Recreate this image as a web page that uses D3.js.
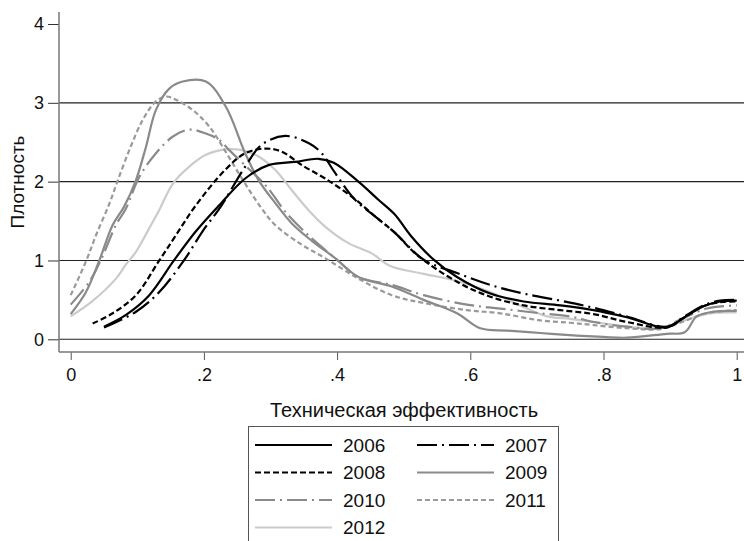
<!DOCTYPE html>
<html>
<head>
<meta charset="utf-8">
<script src="https://cdn.jsdelivr.net/npm/d3@7"></script>
<style>
  body { margin: 0; background: #fff; }
  svg { display: block; font-family: "Liberation Sans", Arial, sans-serif; }
</style>
</head>
<body>
<svg id="chart" width="744" height="541"></svg>
<script>
// density curves, [efficiency, density]
const d2006 = [[.05,.16],[.083,.31],[.118,.56],[.155,1.0],[.188,1.37],[.223,1.70],[.262,2.04],[.297,2.21],[.337,2.25],[.372,2.29],[.395,2.24],[.432,2.0],[.462,1.77],[.487,1.58],[.51,1.32],[.545,1.01],[.58,.79],[.63,.58],[.68,.48],[.735,.43],[.785,.37],[.835,.28],[.895,.15],[.92,.27],[.95,.42],[.975,.48],[1,.49]];
const d2007 = [[.05,.15],[.098,.35],[.133,.60],[.17,1.0],[.198,1.37],[.225,1.68],[.262,2.19],[.287,2.47],[.322,2.58],[.357,2.49],[.377,2.36],[.397,2.11],[.427,1.77],[.457,1.56],[.487,1.35],[.53,1.01],[.58,.84],[.63,.69],[.68,.58],[.735,.49],[.785,.40],[.835,.29],[.895,.16],[.92,.28],[.95,.43],[.975,.49],[1,.50]];
const d2008 = [[.033,.20],[.063,.33],[.098,.56],[.133,1.0],[.158,1.32],[.188,1.70],[.232,2.15],[.262,2.36],[.292,2.42],[.317,2.38],[.347,2.21],[.382,2.04],[.422,1.81],[.457,1.56],[.487,1.35],[.52,1.07],[.58,.73],[.63,.54],[.68,.43],[.735,.37],[.785,.32],[.835,.22],[.895,.15],[.92,.27],[.95,.42],[.975,.47],[1,.48]];
const d2009 = [[0,.32],[.023,.60],[.043,1.0],[.063,1.45],[.08,1.68],[.098,2.02],[.113,2.44],[.128,2.91],[.148,3.18],[.168,3.27],[.203,3.27],[.233,2.95],[.262,2.36],[.282,2.02],[.307,1.73],[.332,1.47],[.362,1.25],[.397,1.03],[.432,.79],[.482,.67],[.53,.50],[.58,.33],[.615,.14],[.655,.11],[.705,.08],[.755,.05],[.8,.03],[.835,.02],[.895,.07],[.922,.09],[.94,.29],[.965,.35],[1,.36]];
const d2010 = [[0,.44],[.028,.73],[.045,1.0],[.068,1.45],[.083,1.66],[.103,2.06],[.128,2.36],[.153,2.57],[.178,2.66],[.203,2.61],[.223,2.53],[.238,2.40],[.264,2.19],[.294,1.94],[.324,1.60],[.362,1.28],[.397,1.03],[.432,.79],[.482,.69],[.53,.56],[.595,.44],[.645,.39],[.705,.33],[.75,.29],[.785,.22],[.835,.16],[.885,.14],[.915,.25],[.955,.39],[1,.43]];
const d2011 = [[0,.56],[.023,.99],[.038,1.32],[.058,1.72],[.07,2.0],[.088,2.40],[.108,2.78],[.128,3.02],[.143,3.08],[.158,3.04],[.183,2.91],[.208,2.70],[.234,2.36],[.26,2.0],[.285,1.68],[.307,1.45],[.347,1.20],[.382,1.03],[.432,.77],[.482,.56],[.53,.46],[.595,.37],[.645,.33],[.705,.24],[.75,.21],[.785,.18],[.835,.14],[.885,.13],[.915,.21],[.955,.33],[1,.37]];
const d2012 = [[0,.29],[.032,.48],[.068,.77],[.083,.95],[.098,1.11],[.118,1.41],[.133,1.64],[.153,1.97],[.178,2.19],[.203,2.34],[.233,2.41],[.257,2.40],[.282,2.32],[.307,2.15],[.332,1.89],[.357,1.64],[.382,1.43],[.417,1.22],[.452,1.09],[.48,.93],[.53,.83],[.58,.74],[.63,.60],[.68,.41],[.715,.29],[.75,.26],[.785,.22],[.835,.16],[.885,.14],[.925,.25],[.96,.33],[1,.34]];

const years = ["2006", "2007", "2008", "2009", "2010", "2011", "2012"];
const xTicks = [0, .2, .4, .6, .8, 1];
const yTicks = [0, 1, 2, 3, 4];
const xTitle = "Техническая эффективность";
const yTitle = "Плотность";

const series = [
  { name: years[0], data: d2006, color: "#000", dash: null },
  { name: years[1], data: d2007, color: "#000", dash: "20,5,2,5" },
  { name: years[2], data: d2008, color: "#000", dash: "6,3" },
  { name: years[3], data: d2009, color: "#8a8a8a", dash: null },
  { name: years[4], data: d2010, color: "#8a8a8a", dash: "20,5,2,5" },
  { name: years[5], data: d2011, color: "#9a9a9a", dash: "5,3" },
  { name: years[6], data: d2012, color: "#cbcbcb", dash: null }
];

const svg = d3.select("#chart");
svg.append("rect").attr("width", 744).attr("height", 541).attr("fill", "#fff");

const axisX = 59, axisY = 352;
const x = d3.scaleLinear().domain([0, 1]).range([70.7, 736.7]);
const y = d3.scaleLinear().domain([0, 4]).range([339.3, 24]);

// grid lines (not at the top tick)
svg.append("g")
  .selectAll("line")
  .data(yTicks.filter(d => d < 4))
  .join("line")
  .attr("x1", axisX).attr("x2", 744)
  .attr("y1", d => y(d)).attr("y2", d => y(d))
  .attr("stroke", "#222").attr("stroke-width", 1.1);

// y axis
const gy = svg.append("g")
  .attr("transform", `translate(${axisX},0)`)
  .call(d3.axisLeft(y).tickValues(yTicks).tickSize(11).tickPadding(4).tickFormat(d3.format("d")));
gy.select(".domain").remove();
gy.selectAll(".tick line").attr("stroke", "#333");
gy.selectAll("text").attr("font-size", 18).attr("fill", "#111").attr("font-family", "Liberation Sans, Arial, sans-serif");

// x axis
const gx = svg.append("g")
  .attr("transform", `translate(0,${axisY})`)
  .call(d3.axisBottom(x).tickValues(xTicks).tickSize(8).tickPadding(8)
    .tickFormat(d => d === 0 ? "0" : d === 1 ? "1" : d3.format(".1f")(d).replace(/^0/, "")));
gx.select(".domain").remove();
gx.selectAll(".tick line").attr("stroke", "#555");
gx.selectAll("text").attr("font-size", 18).attr("fill", "#111").attr("font-family", "Liberation Sans, Arial, sans-serif");

// axis lines
svg.append("line").attr("x1", axisX).attr("x2", axisX).attr("y1", 12).attr("y2", axisY)
  .attr("stroke", "#777").attr("stroke-width", 1.5);
svg.append("line").attr("x1", axisX).attr("x2", 744).attr("y1", axisY).attr("y2", axisY)
  .attr("stroke", "#777").attr("stroke-width", 1.5);

// curves
const line = d3.line()
  .x(d => x(d[0]))
  .y(d => y(d[1]))
  .curve(d3.curveCatmullRom.alpha(0.5));

// draw light ones first so the black ones sit on top
const order = [6, 5, 4, 3, 2, 1, 0];
svg.append("g")
  .selectAll("path")
  .data(order.map(i => series[i]))
  .join("path")
  .attr("d", d => line(d.data))
  .attr("fill", "none")
  .attr("stroke", d => d.color)
  .attr("stroke-width", 2.2)
  .attr("stroke-dasharray", d => d.dash)
  .attr("stroke-linejoin", "round");

// titles
svg.append("text")
  .attr("x", 404).attr("y", 417)
  .attr("text-anchor", "middle")
  .attr("font-size", 20).attr("fill", "#111")
  .text(xTitle);

svg.append("text")
  .attr("transform", "translate(24,182) rotate(-90)")
  .attr("text-anchor", "middle")
  .attr("font-size", 19).attr("fill", "#111")
  .text(yTitle);

// legend
const legend = svg.append("g");
legend.append("rect")
  .attr("x", 248.5).attr("y", 426.5).attr("width", 310).attr("height", 130)
  .attr("fill", "#fff").attr("stroke", "#555").attr("stroke-width", 1);

const rowY = [445, 472.5, 500, 527.5];
const item = legend.selectAll("g.item")
  .data(series)
  .join("g")
  .attr("class", "item")
  .attr("transform", (d, i) => `translate(${i % 2 === 0 ? 255 : 417},${rowY[Math.floor(i / 2)]})`);

item.append("line")
  .attr("x1", 0).attr("x2", 77).attr("y1", 0).attr("y2", 0)
  .attr("stroke", d => d.color)
  .attr("stroke-width", 2.2)
  .attr("stroke-dasharray", d => d.dash);

item.append("text")
  .attr("x", 88).attr("y", 0).attr("dy", "0.36em")
  .attr("font-size", 19).attr("fill", "#111")
  .text(d => d.name);
</script>
</body>
</html>
